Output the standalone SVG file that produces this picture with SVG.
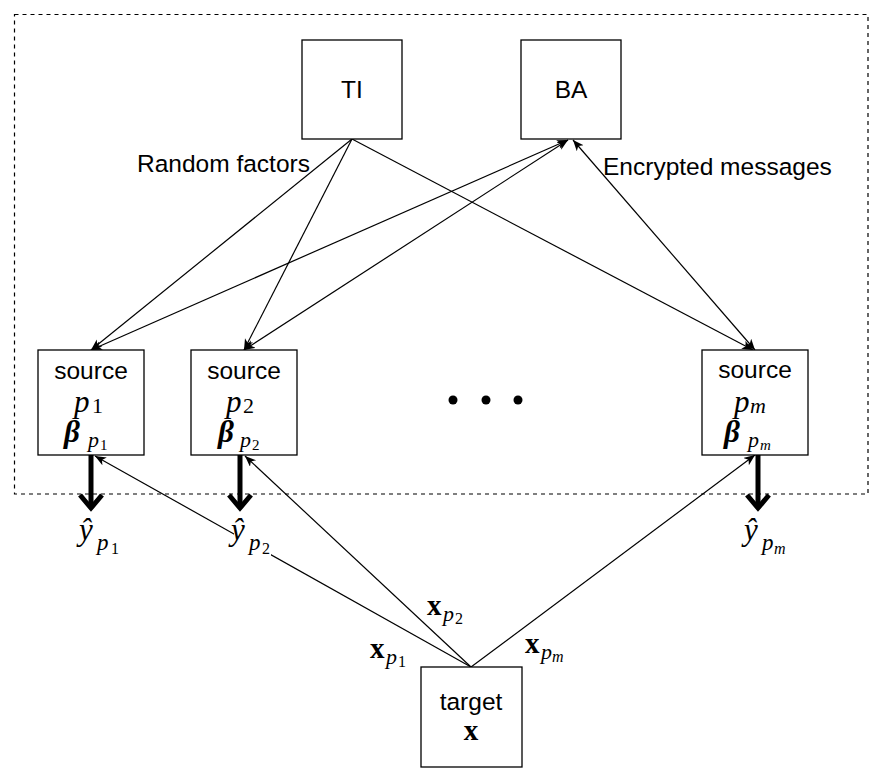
<svg xmlns="http://www.w3.org/2000/svg" width="886" height="778" viewBox="0 0 886 778">
<style>
.box{fill:#fff;stroke:#000;stroke-width:1.3}
.lbl{font-family:"Liberation Sans",Arial,sans-serif;font-size:24.5px;fill:#000}
.m{font-family:"Liberation Serif","Times New Roman",serif;fill:#000}
.it{font-style:italic}
.bd{font-weight:bold}
.ln{stroke:#000;stroke-width:1.2;fill:none}
.thick{stroke:#000;stroke-width:5;fill:none}
</style>
<defs>
<marker id="ah" markerUnits="userSpaceOnUse" markerWidth="12" markerHeight="10" refX="11" refY="4.5" orient="auto-start-reverse">
<path d="M0,0 L11,4.5 L0,9 L3,4.5 Z" fill="#000"/>
</marker>
</defs>
<rect x="14.5" y="14.5" width="853.5" height="479.5" fill="none" stroke="#000" stroke-width="1.2" stroke-dasharray="4,4"/>

<g id="connectors">
<line class="ln" x1="352" y1="139" x2="91" y2="350" marker-end="url(#ah)"/>
<line class="ln" x1="352" y1="139" x2="244" y2="350" marker-end="url(#ah)"/>
<line class="ln" x1="352" y1="139" x2="753" y2="350" marker-end="url(#ah)"/>
<line class="ln" x1="91" y1="350" x2="568" y2="140" marker-start="url(#ah)" marker-end="url(#ah)"/>
<line class="ln" x1="244" y1="350" x2="568" y2="140" marker-start="url(#ah)" marker-end="url(#ah)"/>
<line class="ln" x1="755" y1="350" x2="573" y2="140" marker-start="url(#ah)" marker-end="url(#ah)"/>
<line class="ln" x1="471" y1="667" x2="95" y2="456" marker-end="url(#ah)"/>
<line class="ln" x1="471" y1="667" x2="245" y2="456" marker-end="url(#ah)"/>
<line class="ln" x1="471" y1="667" x2="755" y2="455" marker-end="url(#ah)"/>
<line class="thick" x1="91" y1="455" x2="91" y2="508"/>
<path class="thick" d="M80,495 L91,508 L102,495"/>
<line class="thick" x1="240" y1="455" x2="240" y2="508"/>
<path class="thick" d="M229,495 L240,508 L251,495"/>
<line class="thick" x1="758" y1="455" x2="758" y2="508"/>
<path class="thick" d="M747,495 L758,508 L769,495"/>
</g>

<g id="TI"><rect class="box" x="302" y="40" width="100" height="99"/><text class="lbl" x="352" y="98" text-anchor="middle">TI</text></g>
<g id="BA"><rect class="box" x="521" y="40" width="100" height="99"/><text class="lbl" x="571" y="98" text-anchor="middle">BA</text></g>

<text class="lbl" x="137" y="172">Random factors</text>
<text class="lbl" x="603" y="175">Encrypted messages</text>

<g id="source1">
<rect class="box" x="38" y="350" width="106" height="105"/>
<text class="lbl" x="91" y="379" text-anchor="middle">source</text>
<text class="m it" x="74" y="412" font-size="31">p</text><text class="m" x="92" y="413" font-size="22">1</text>
<text class="m it bd" x="64" y="442" font-size="31">β</text><text class="m it" x="88" y="447" font-size="22">p</text><text class="m" x="100" y="450" font-size="15">1</text>
</g>
<g id="source2">
<rect class="box" x="191" y="350" width="106" height="105"/>
<text class="lbl" x="244" y="379" text-anchor="middle">source</text>
<text class="m it" x="226" y="412" font-size="31">p</text><text class="m" x="243" y="413" font-size="22">2</text>
<text class="m it bd" x="218" y="442" font-size="31">β</text><text class="m it" x="240" y="447" font-size="22">p</text><text class="m" x="252" y="450" font-size="15">2</text>
</g>
<g id="sourcem">
<rect class="box" x="702" y="350" width="106" height="105"/>
<text class="lbl" x="755" y="378" text-anchor="middle">source</text>
<text class="m it" x="734" y="412" font-size="31">p</text><text class="m it" x="750" y="413" font-size="22">m</text>
<text class="m it bd" x="724" y="442" font-size="31">β</text><text class="m it" x="748" y="447" font-size="22">p</text><text class="m it" x="760" y="450" font-size="15">m</text>
</g>

<g id="dots">
<circle cx="453" cy="400" r="4.5" fill="#000"/>
<circle cx="486" cy="400" r="4.5" fill="#000"/>
<circle cx="518" cy="400" r="4.5" fill="#000"/>
</g>

<g id="yhat1"><text class="m it" x="79" y="540" font-size="31">ŷ</text><text class="m it" x="97" y="550" font-size="23">p</text><text class="m" x="111" y="554" font-size="16">1</text></g>
<g id="yhat2"><rect x="234" y="519" width="37" height="38" fill="#fff"/><text class="m it" x="231" y="540" font-size="31">ŷ</text><text class="m it" x="249" y="550" font-size="23">p</text><text class="m" x="262" y="554" font-size="16">2</text></g>
<g id="yhatm"><text class="m it" x="744" y="540" font-size="31">ŷ</text><text class="m it" x="762" y="550" font-size="23">p</text><text class="m it" x="774" y="554" font-size="16">m</text></g>

<g id="xlabels">
<text class="m bd" x="370" y="658" font-size="29">x</text><text class="m it" x="386" y="664" font-size="22">p</text><text class="m" x="398" y="667" font-size="16">1</text>
<text class="m bd" x="427" y="615" font-size="29">x</text><text class="m it" x="443" y="621" font-size="22">p</text><text class="m" x="455" y="624" font-size="16">2</text>
<text class="m bd" x="525" y="653" font-size="29">x</text><text class="m it" x="541" y="659" font-size="22">p</text><text class="m it" x="552" y="662" font-size="16">m</text>
</g>

<g id="target">
<rect class="box" x="421" y="667" width="101" height="100"/>
<text class="lbl" x="471" y="710" text-anchor="middle">target</text>
<text class="m bd" x="471" y="740" font-size="29" text-anchor="middle">x</text>
</g>
</svg>
